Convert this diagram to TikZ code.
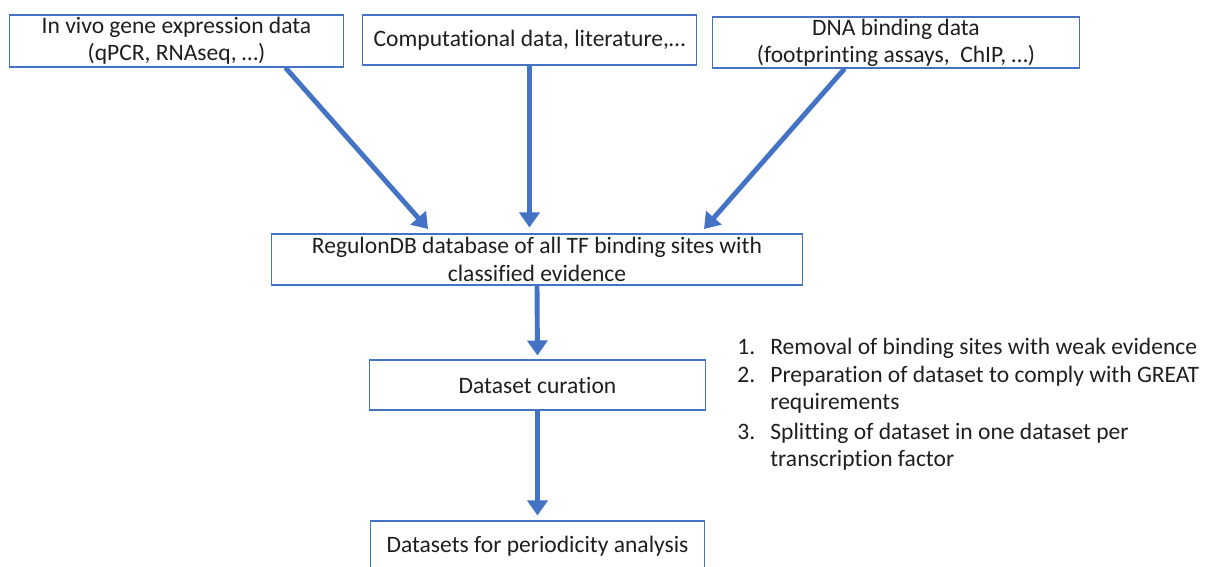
\documentclass[tikz,border=0pt]{standalone}
\usepackage{fontspec}
\setmainfont{Carlito}[Ligatures=NoCommon]
\usetikzlibrary{arrows.meta,calc}
\definecolor{ink}{HTML}{1F1F1F}
\definecolor{frame}{HTML}{4472C4}
\definecolor{flow}{HTML}{4472C4}

\begin{document}
\begin{tikzpicture}[x=0.02cm,y=-0.02cm,
  font=\fontsize{13.4}{15.5}\selectfont,text=ink,
  box/.style={draw=frame,line width=0.6pt,fill=white,align=center,inner sep=0pt},
  link/.style={draw=flow,line width=2.8pt,-{Triangle[length=0.3cm,width=0.4cm]}}]
\useasboundingbox (0,0) rectangle (1205,566);

% ---------------- sources --------------------------------------------------
\node[box,minimum width=6.7cm,minimum height=1.04cm] (invivo) at (176.5,41)
  {In vivo gene expression data\\(qPCR, RNAseq, …)};
\node[box,minimum width=6.7cm,minimum height=1.0cm] (comp) at (529.5,40)
  {Computational data, literature,…};
\node[box,minimum width=7.36cm,minimum height=1.02cm] (dna) at (896,42.5)
  {DNA binding data\\(footprinting assays,~ ChIP, …)};

% ---------------- pipeline -------------------------------------------------
\node[box,minimum width=10.64cm,minimum height=1.02cm] (regulon) at (537,259.5)
  {RegulonDB database of all TF binding sites with\\classified evidence};
\node[box,minimum width=6.72cm,minimum height=1.0cm] (curation) at (537.5,385)
  {Dataset curation};
\node[box,minimum width=6.7cm,minimum height=1.0cm] (datasets) at (537.5,546)
  {Datasets for periodicity analysis};

% curation steps
\node[anchor=base west,inner sep=0pt] (steps) at (737,354)
  {\begin{tabular}[t]{@{}p{0.66cm}@{}l@{}}
   1. & Removal of binding sites with weak evidence\\[0.03cm]
   2. & Preparation of dataset to comply with GREAT\\
      & requirements\\[0.05cm]
   3. & Splitting of dataset in one dataset per\\
      & transcription factor
   \end{tabular}};

% ---------------- arrows ---------------------------------------------------
\draw[link,shorten >=0.12cm] ($(invivo.south west)!0.824!(invivo.south east)$)
  -- ($(regulon.north west)!0.303!(regulon.north east)$);
\draw[link,shorten >=0.12cm] (comp.south) -- (comp.south |- regulon.north);
\draw[link,shorten >=0.12cm] ($(dna.south west)!0.361!(dna.south east)$)
  -- ($(regulon.north west)!0.806!(regulon.north east)$);
\draw[link,shorten >=0.08cm] (regulon.south) -- (curation.north);
\draw[link,shorten >=0.1cm] (curation.south) -- (datasets.north);

\end{tikzpicture}
\end{document}
